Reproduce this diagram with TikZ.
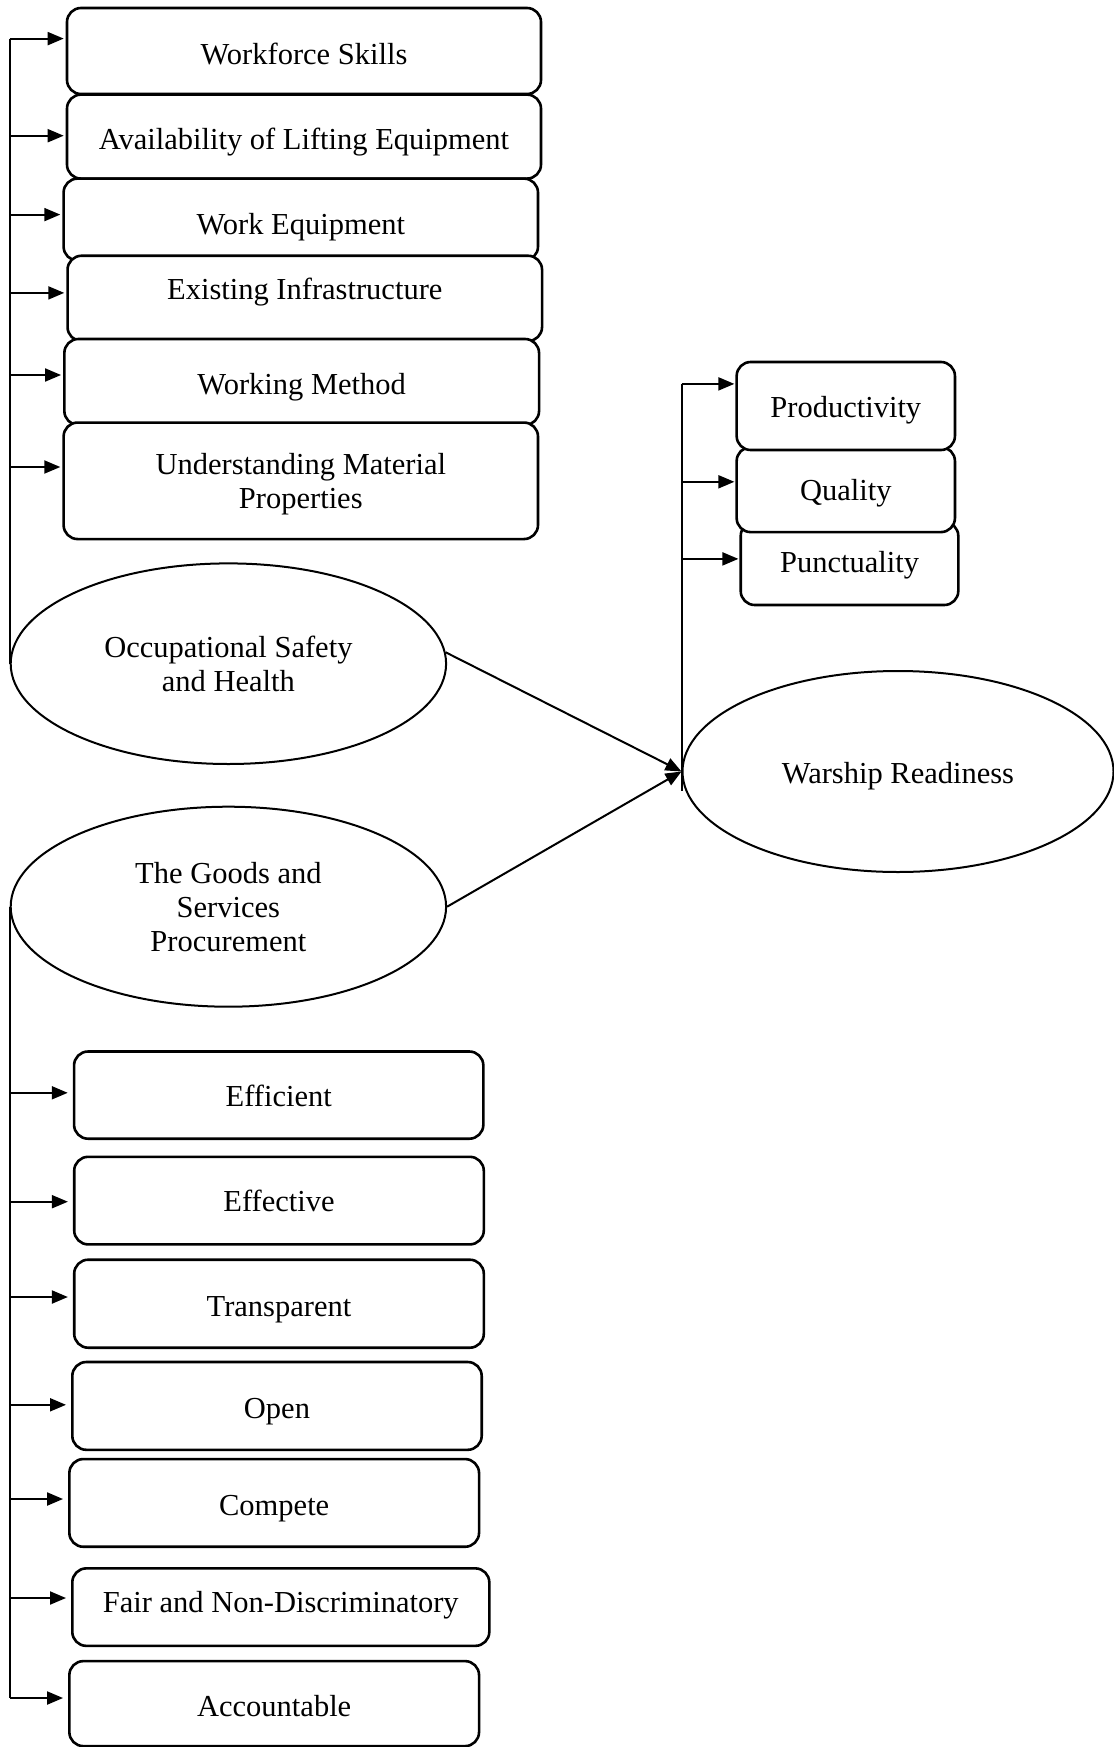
\documentclass[tikz,border=0pt]{standalone}
\usepackage{fontspec}
\setmainfont{Liberation Serif}
\usetikzlibrary{shapes.geometric,arrows.meta}
\begin{document}
\begin{tikzpicture}[x=1pt,y=-1pt,
  bx/.style={draw,line width=2.6pt,rounded corners=14pt,fill=white,inner sep=0pt,align=center,font=\fontsize{30.5}{34}\selectfont},
  ov/.style={draw,ellipse,line width=2pt,inner sep=0pt,align=center,font=\fontsize{30.5}{34}\selectfont},
  th/.style={text height=#1,text depth=0pt},
  link/.style={line width=2pt},
  arr/.style={line width=2pt,-{Triangle[length=16pt,width=13pt]}}]
\useasboundingbox (0,0) rectangle (1113,1747);

% ---- top group boxes
\node[bx,th=27.8pt,minimum width=474pt,minimum height=86pt] (w1) at (304,51) {Workforce Skills};
\node[bx,th=25.6pt,minimum width=474pt,minimum height=84pt] (w2) at (304,136.6) {Availability of Lifting Equipment};
\node[bx,th=30.4pt,minimum width=474.4pt,minimum height=82pt] (w3) at (300.8,219.6) {Work Equipment};
\node[bx,th=2.6pt,minimum width=474.5pt,minimum height=85.3pt] (w4) at (304.8,298.4) {Existing Infrastructure};
\node[bx,th=25.6pt,minimum width=474.7pt,minimum height=86pt] (w5) at (301.7,382) {Working Method};
\node[bx,text depth=0pt,minimum width=474.4pt,minimum height=116.5pt] (w6) at (300.8,480.8) {Understanding Material\\Properties};

% ---- ellipses
\node[ov,minimum width=435.4pt,minimum height=200.6pt] (osh) at (228.4,663.7) {Occupational Safety\\and Health};
\node[ov,minimum width=435.4pt,minimum height=200pt] (goods) at (228.4,906.7) {The Goods and\\Services\\Procurement};
\node[ov,th=23.4pt,minimum width=431pt,minimum height=201pt] (wr) at (898,771.5) {Warship Readiness};

% ---- right group boxes
\node[bx,th=18.4pt,minimum width=217.6pt,minimum height=83pt] (p3) at (849.5,563.5) {Punctuality};
\node[bx,th=21pt,minimum width=218.3pt,minimum height=85pt] (p2) at (845.8,489.6) {Quality};
\node[bx,th=23.4pt,minimum width=218.3pt,minimum height=88pt] (p1) at (845.8,406) {Productivity};

% ---- bottom group boxes
\node[bx,th=23.2pt,minimum width=409.3pt,minimum height=87.2pt] (b1) at (278.7,1095.1) {Efficient};
\node[bx,th=21pt,minimum width=409.6pt,minimum height=87.6pt] (b2) at (279,1200.6) {Effective};
\node[bx,th=25.6pt,minimum width=409.6pt,minimum height=88pt] (b3) at (279,1303.7) {Transparent};
\node[bx,th=25.6pt,minimum width=409.4pt,minimum height=87.8pt] (b4) at (277,1405.9) {Open};
\node[bx,th=25.6pt,minimum width=409.7pt,minimum height=87.7pt] (b5) at (274.2,1502.9) {Compete};
\node[bx,th=10pt,minimum width=417pt,minimum height=77.5pt] (b6) at (280.8,1607.1) {Fair and Non-Discriminatory};
\node[bx,th=25.4pt,minimum width=409.7pt,minimum height=85pt] (b7) at (274.2,1703.6) {Accountable};

% ---- arrow target points
\coordinate (a1) at ([yshift=12.4pt]w1.west);
\coordinate (a2) at ([yshift=0.9pt]w2.west);
\coordinate (a3) at ([yshift=5pt]w3.west);
\coordinate (a4) at ([yshift=5.5pt]w4.west);
\coordinate (a5) at ([yshift=7pt]w5.west);
\coordinate (a6) at ([yshift=13.8pt]w6.west);

\coordinate (r1) at ([yshift=22.1pt]p1.west);
\coordinate (r2) at ([yshift=7.8pt]p2.west);
\coordinate (r3) at ([yshift=4.6pt]p3.west);

\coordinate (c1) at ([yshift=2.3pt]b1.west);
\coordinate (c2) at ([yshift=-1.1pt]b2.west);
\coordinate (c3) at ([yshift=6.7pt]b3.west);
\coordinate (c4) at ([yshift=1.1pt]b4.west);
\coordinate (c5) at ([yshift=3.9pt]b5.west);
\coordinate (c6) at ([yshift=9.1pt]b6.west);
\coordinate (c7) at ([yshift=5.6pt]b7.west);
\coordinate (wrlow) at ([yshift=-19pt]wr.west);

% ---- top trunk
\draw[link] (osh.west) -- (osh.west |- a1);
\foreach \t in {a1,a2,a3,a4,a5,a6}
  \draw[arr,shorten >=2pt] (osh.west |- \t) -- (\t);

% ---- right trunk
\draw[link] (wrlow) -- (wrlow |- r1);
\foreach \t in {r1,r2,r3}
  \draw[arr,shorten >=1pt] (wrlow |- \t) -- (\t);

% ---- bottom trunk
\draw[link] (goods.west) -- (goods.west |- c7);
\foreach \t in {c1,c2,c3,c4,c5,c6,c7}
  \draw[arr,shorten >=5pt] (goods.west |- \t) -- (\t);

% ---- converging links
\draw[arr] (osh.3) -- (wr.west);
\draw[arr] (goods.east) -- (wr.west);
\end{tikzpicture}
\end{document}
